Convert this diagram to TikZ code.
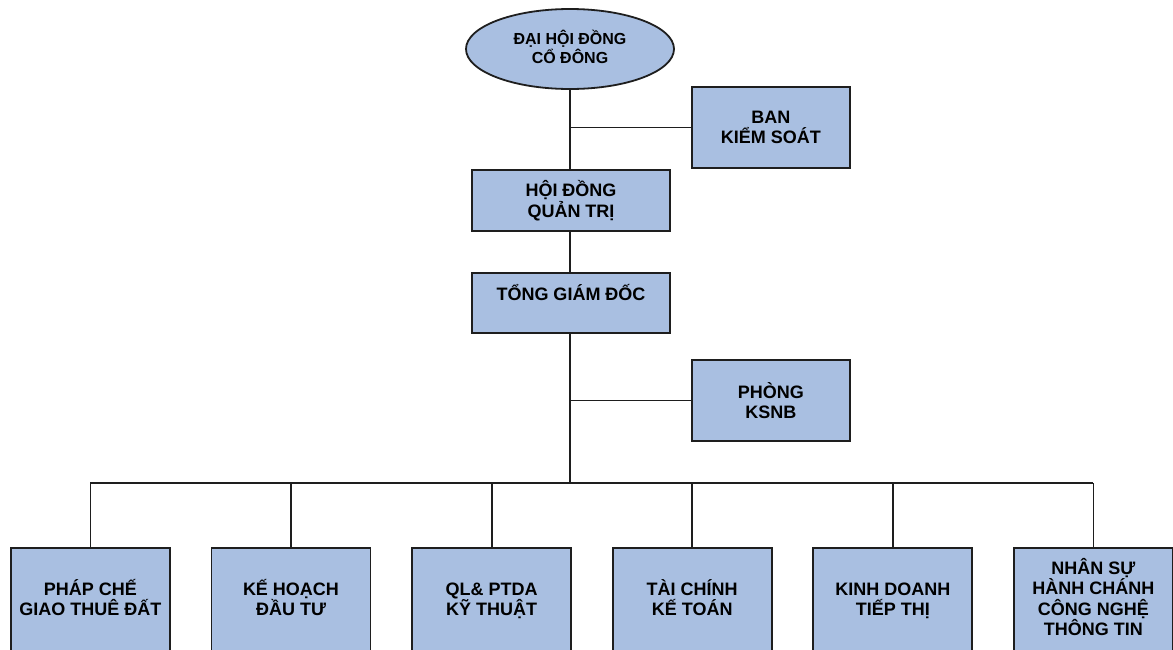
\documentclass[tikz,border=0pt]{standalone}
\usepackage{fontspec}
\setmainfont{Liberation Sans}
\usepackage{xcolor}
\usepackage{tikz}
\usetikzlibrary{positioning, shapes.geometric}
\definecolor{orgfill}{HTML}{A9BFE1}
\definecolor{orgink}{HTML}{1E1E1E}

\begin{document}
\begin{tikzpicture}[
  x=1pt, y=-1pt,
  font=\bfseries\fontsize{18}{20.5}\selectfont,
  orgbox/.style={
    draw=orgink,
    fill=orgfill,
    line width=1.8pt,
    align=center,
    inner sep=0pt
  },
  meetbox/.style={orgbox, ellipse, minimum width=208pt, minimum height=80pt,
    font=\bfseries\fontsize{16}{19}\selectfont, text height=30.5pt, text depth=2pt},
  topbox/.style={orgbox, minimum width=198pt},
  sidebox/.style={orgbox, minimum width=158pt, minimum height=81pt},
  unitbox/.style={orgbox, minimum width=159pt, minimum height=104pt,
    text height=33.4pt, text depth=2pt},
  link/.style={draw=orgink, line width=1.8pt}
]
\useasboundingbox (0,0) rectangle (1173,649);

\node[meetbox] (dhcd) at (570,49) {ĐẠI HỘI ĐỒNG\\CỔ ĐÔNG};

\node[sidebox, anchor=north west] (bks) at (691,86) {BAN\\KIỂM SOÁT};

\node[topbox, minimum height=61pt] (hdqt) at (571,200.5) {HỘI ĐỒNG\\QUẢN TRỊ};
\node[topbox, minimum height=60pt, below=40pt of hdqt] (tgd) {TỔNG GIÁM ĐỐC\\\mbox{}};

\node[sidebox, anchor=north west] (ksnb) at (691,359) {PHÒNG\\KSNB};

\node[unitbox, anchor=north west] (u1) at (10,547) {PHÁP CHẾ\\GIAO THUÊ ĐẤT};
\node[unitbox, right=39.8pt of u1] (u2) {KẾ HOẠCH\\ĐẦU TƯ};
\node[unitbox, right=39.8pt of u2] (u3) {QL\& PTDA\\KỸ THUẬT};
\node[unitbox, right=39.8pt of u3] (u4) {TÀI CHÍNH\\KẾ TOÁN};
\node[unitbox, right=39.8pt of u4] (u5) {KINH DOANH\\TIẾP THỊ};
\node[unitbox, right=39.8pt of u5, text height=74.4pt, text depth=3pt] (u6)
  {NHÂN SỰ\\HÀNH CHÁNH\\CÔNG NGHỆ\\THÔNG TIN};

\coordinate (bus) at (570,483);

\draw[link] (dhcd.south) -- (dhcd.south |- hdqt.north);
\draw[link] (dhcd.south |- bks.west) -- (bks.west);
\draw[link] (dhcd.south |- hdqt.south) -- (dhcd.south |- tgd.north);
\draw[link] (bus |- tgd.south) -- (bus);
\draw[link] (bus |- ksnb.west) -- (ksnb.west);

\draw[link] (u1.north |- bus) -- (u6.north |- bus);
\draw[link] (u1.north |- bus) -- (u1.north);
\draw[link] (u2.north |- bus) -- (u2.north);
\draw[link] (u3.north |- bus) -- (u3.north);
\draw[link] (u4.north |- bus) -- (u4.north);
\draw[link] (u5.north |- bus) -- (u5.north);
\draw[link] (u6.north |- bus) -- (u6.north);

\end{tikzpicture}
\end{document}
